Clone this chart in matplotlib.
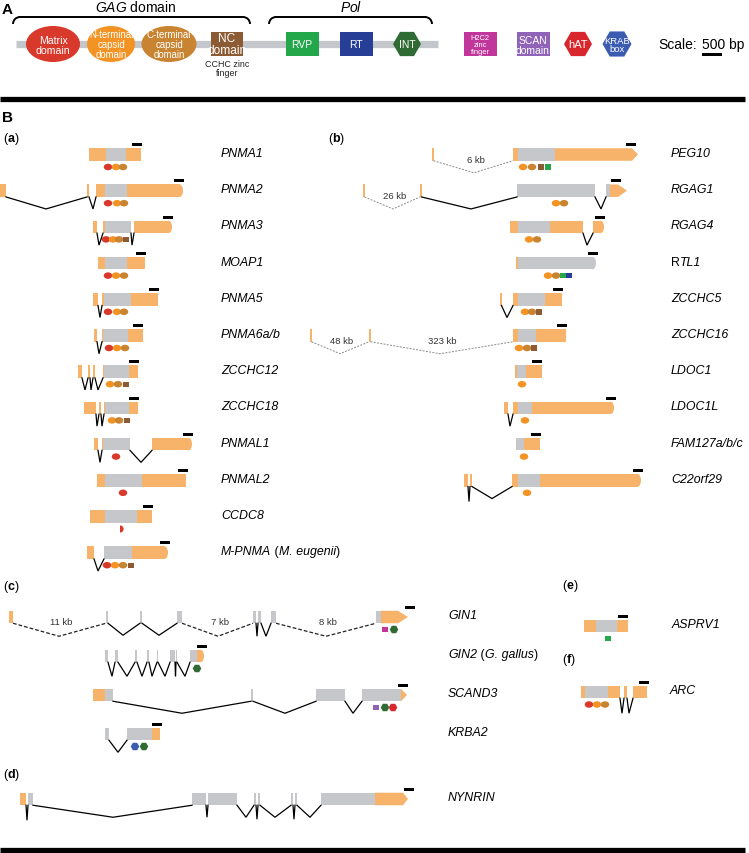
import numpy as np
import matplotlib
matplotlib.use('Agg')
import matplotlib.pyplot as plt
from matplotlib.patches import Rectangle, Ellipse, Polygon, RegularPolygon, Arc, Wedge

plt.rcParams['font.family'] = ['Liberation Sans', 'DejaVu Sans']
plt.rcParams['mathtext.fontset'] = 'custom'
plt.rcParams['mathtext.rm'] = 'Liberation Sans'
plt.rcParams['mathtext.it'] = 'Liberation Sans:italic'
plt.rcParams['mathtext.bf'] = 'Liberation Sans:bold'

W, H = 749, 854
EXON_H = 12.5

COLORS = {
    'M': '#d8392b', 'N': '#f39323', 'C': '#c98431', 'Z': '#8c5b34',
    'R': '#23a74a', 'T': '#273e97', 'I': '#2f6b33', 'H': '#c1369a',
    'S': '#8f63b8', 'A': '#d7262c', 'K': '#3c5cb2', 'm': '#d8392b',
    'o': '#f8b36a', 'g': '#c5c7cb',
}
ELLIPSES = 'MNC'
SQUARES = 'ZRTHS'
HEXAGONS = 'IAK'

# ---- panel A legend ----
LEGEND_KEYS = ['M', 'N', 'C', 'Z', 'R', 'T', 'I', 'H', 'S', 'A', 'K']
LEGEND_LABELS = ['Matrix\ndomain', 'N-terminal\ncapsid\ndomain', 'C-terminal\ncapsid\ndomain',
                 'NC\ndomain', 'RVP', 'RT', 'INT', 'H2C2\nzinc\nfinger', 'SCAN\ndomain',
                 'hAT', 'KRAB\nbox']
LEGEND_X = [53, 111, 169, 227, 302, 356, 407, 480, 533, 578, 617]
LEGEND_W = [54, 48, 55, 32, 33, 33, 28, 33, 33, 28, 29]
LEGEND_FS = [7.6, 6.9, 6.9, 8.6, 7.4, 7.4, 7.4, 5.4, 7.5, 8.0, 6.8]

# ---- gene structures: (name, exons, end, introns, domains, scale-bar start) ----
# exons: (start, end, 'o' UTR / 'g' CDS); introns: (start, low point, end, style, depth, label)
PANEL_A = [
    ('PNMA1', [(89, 106, 'o'), (106, 126, 'g'), (126, 141, 'o')], None, [],
     [(108, 'M'), (116, 'N'), (123, 'C')], 132),
    ('PNMA2', [(0, 6, 'o'), (87, 89, 'o'), (96, 105, 'o'), (105, 127, 'g'), (127, 183, 'o')], ('round',),
     [(6, 46, 87), (89, 93, 96)], [(108, 'M'), (117, 'N'), (124, 'C')], 174),
    ('PNMA3', [(93, 97, 'o'), (103, 105, 'o'), (105, 131, 'g'), (134, 172, 'o')], ('round',),
     [(97, 99, 103), (131, 132, 134)], [(106, 'M'), (113, 'N'), (119, 'C'), (126, 'Z')], 163),
    ('MOAP1', [(98, 105, 'o'), (105, 127, 'g'), (127, 145, 'o')], None, [],
     [(108, 'M'), (116, 'N'), (124, 'C')], 136),
    ('PNMA5', [(93, 98, 'o'), (102, 104, 'o'), (104, 131, 'g'), (131, 158, 'o')], None,
     [(98, 100, 102)], [(108, 'M'), (117, 'N'), (124, 'C')], 149),
    ('PNMA6a/b', [(94, 97, 'o'), (102, 103, 'o'), (103, 128, 'g'), (128, 143, 'o')], None,
     [(97, 99, 102)], [(109, 'M'), (117, 'N'), (125, 'C')], 133),
    ('ZCCHC12', [(78, 82, 'o'), (88, 90, 'o'), (93, 95, 'o'), (103, 104, 'o'), (104, 129, 'g'), (129, 138, 'o')],
     None, [(82, 85, 88), (90, 91, 93), (95, 98, 103)], [(110, 'N'), (118, 'C'), (126, 'Z')], 129),
    ('ZCCHC18', [(84, 96, 'o'), (99, 101, 'o'), (104, 105, 'o'), (105, 129, 'g'), (129, 138, 'o')], None,
     [(96, 97, 99), (101, 102, 104)], [(112, 'N'), (119, 'C'), (127, 'Z')], 129),
    ('PNMAL1', [(94, 98, 'o'), (102, 103, 'o'), (103, 130, 'g'), (152, 192, 'o')], ('round',),
     [(98, 100, 102), (130, 141, 152)], [(116, 'M')], 183),
    ('PNMAL2', [(97, 105, 'o'), (105, 142, 'g'), (142, 186, 'o')], None, [], [(123, 'M')], 178),
    ('CCDC8', [(90, 105, 'o'), (105, 137, 'g'), (137, 152, 'o')], None, [], [(120, 'm')], 143),
    ('M-PNMA', [(87, 94, 'o'), (104, 132, 'g'), (132, 168, 'o')], ('round',), [(94, 98, 104)],
     [(107, 'M'), (115, 'N'), (123, 'C'), (131, 'Z')], 160),
]
LABELS_A = [[('PNMA1', 'italic')], [('PNMA2', 'italic')], [('PNMA3', 'italic')], [('MOAP1', 'italic')],
            [('PNMA5', 'italic')], [('PNMA6a/b', 'italic')], [('ZCCHC12', 'italic')],
            [('ZCCHC18', 'italic')], [('PNMAL1', 'italic')], [('PNMAL2', 'italic')],
            [('CCDC8', 'italic')],
            [('M-PNMA', 'italic'), (' (', 'normal'), ('M. eugenii', 'italic'), (')', 'normal')]]

PANEL_B = [
    ('PEG10', [(432, 433.5, 'o'), (513, 518, 'o'), (518, 555, 'g'), (555, 638, 'o')], ('arrow', 6),
     [(433.5, 474, 513, 'd', 12, '6 kb')], [(523, 'N'), (532, 'C'), (541, 'Z'), (548, 'R')], 626),
    ('RGAG1', [(363, 364.5, 'o'), (420, 421.5, 'o'), (517, 595, 'g'), (606, 610, 'g'), (610, 627, 'o')],
     ('arrow', 9), [(364.5, 393, 420, 'd', 12, '26 kb'), (421.5, 471, 517), (595, 601, 606)],
     [(556, 'N'), (564, 'C')], 611),
    ('RGAG4', [(510, 518, 'o'), (518, 550, 'g'), (550, 583, 'o'), (593, 604, 'o')], ('round',),
     [(583, 587, 593)], [(529, 'N'), (537, 'C')], 595),
    ('RTL1', [(516, 518, 'o'), (518, 596, 'g')], ('round',), [],
     [(548, 'N'), (556, 'C'), (563, 'R'), (569, 'T')], 588),
    ('ZCCHC5', [(500, 501.5, 'o'), (513, 518, 'o'), (518, 545, 'g'), (545, 562, 'o')], None,
     [(501.5, 507, 513)], [(525, 'N'), (532, 'C'), (539, 'Z')], 553),
    ('ZCCHC16', [(310, 311.5, 'o'), (369, 370.5, 'o'), (513, 518, 'o'), (518, 536, 'g'), (536, 566, 'o')],
     None, [(311.5, 340, 369, 'd', 12, '48 kb'), (370.5, 440, 513, 'd', 12, '323 kb')],
     [(519, 'N'), (527, 'C'), (534, 'Z')], 557),
    ('LDOC1', [(515, 517, 'o'), (517, 526, 'g'), (526, 542, 'o')], None, [], [(522, 'N')], 532),
    ('LDOC1L', [(504, 508, 'o'), (513, 518, 'o'), (518, 532, 'g'), (532, 614, 'o')], ('round',),
     [(508, 510, 513)], [(525, 'N')], 606),
    ('FAM127a/b/c', [(516, 524, 'g'), (524, 540, 'o')], None, [], [(524, 'N')], 531),
    ('C22orf29', [(464, 468, 'o'), (470, 472, 'o'), (512, 518, 'o'), (518, 540, 'g'), (540, 641, 'o')],
     ('round',), [(468, 469, 470, 's', 15), (472, 492, 512)], [(527, 'N')], 633),
]
LABELS_B = [[('PEG10', 'italic')], [('RGAG1', 'italic')], [('RGAG4', 'italic')],
            [('R', 'normal'), ('TL1', 'italic')], [('ZCCHC5', 'italic')], [('ZCCHC16', 'italic')],
            [('LDOC1', 'italic')], [('LDOC1L', 'italic')], [('FAM127a/b/c', 'italic')],
            [('C22orf29', 'italic')]]

PANEL_C = [
    ('GIN1', [(9, 13, 'o'), (106, 108, 'g'), (140, 142, 'g'), (177, 182, 'g'), (253, 256, 'g'),
              (258, 261, 'g'), (271, 276, 'g'), (376, 381, 'g'), (381, 408, 'o')], ('arrow', 10),
     [(13, 59, 106, 'k', 13, '11 kb'), (108, 123, 140), (142, 159, 177), (182, 218, 253, 'k', 13, '7 kb'),
      (256, 257, 258, 's', 13), (261, 266, 271, 's', 13), (276, 326, 376, 'k', 13, '8 kb')],
     [(385, 'H'), (394, 'I')], 405),
    ('GIN2', [(105, 108, 'g'), (115, 118, 'g'), (135, 137, 'g'), (147, 149, 'g'), (157, 158, 'g'),
              (170, 175, 'g'), (176, 177, 'g'), (190, 197, 'g'), (197, 204, 'o')], ('round',),
     [(108, 112, 115, 's', 14), (118, 127, 135, 's', 14), (137, 142, 147, 's', 14), (149, 152, 157, 's', 14),
      (158, 165, 170, 's', 14), (175, 175.5, 176, 's', 14), (177, 185, 190, 's', 14)],
     [(197, 'I')], 197),
    ('SCAND3', [(93, 105, 'o'), (105, 113, 'g'), (251, 253, 'g'), (316, 345, 'g'), (362, 401, 'g'),
                (401, 407, 'o')], ('arrow', 6),
     [(113, 182, 251), (253, 285, 316), (345, 353, 362)], [(376, 'S'), (385, 'I'), (393, 'A')], 398),
    ('KRBA2', [(105, 109, 'g'), (127, 152, 'g'), (152, 160, 'o')], None, [(109, 118, 127)],
     [(135, 'K'), (144, 'I')], 152),
]
LABELS_C = [[('GIN1', 'italic')],
            [('GIN2', 'italic'), (' (', 'normal'), ('G. gallus', 'italic'), (')', 'normal')],
            [('SCAND3', 'italic')], [('KRBA2', 'italic')]]

PANEL_D = [
    ('NYNRIN', [(20, 26, 'o'), (28, 33, 'g'), (192, 206, 'g'), (208, 237, 'g'), (254, 256, 'g'),
                (258, 260, 'g'), (291, 293, 'g'), (295, 297, 'g'), (321, 375, 'g'), (375, 408, 'o')],
     ('arrow', 5),
     [(26, 27, 28, 's', 15), (33, 113, 192), (206, 207, 208, 's', 12), (237, 246, 254),
      (256, 257, 258, 's', 14), (260, 275, 291), (293, 294, 295, 's', 14), (297, 310, 321)],
     [], 404),
]
LABELS_D = [[('NYNRIN', 'italic')]]

PANEL_E = [('ASPRV1', [(584, 596, 'o'), (596, 617, 'g'), (617, 628, 'o')], None, [], [(608, 'R')], 618)]
PANEL_F = [('ARC', [(581, 585, 'o'), (585, 608, 'g'), (608, 620, 'o'), (624, 627, 'o'), (633, 647, 'o')],
            None, [(620, 622, 624, 's', 15), (627, 629, 633, 's', 15)],
            [(589, 'M'), (597, 'N'), (605, 'C')], 639)]


def add_domain(ax, x, y, key):
    c = COLORS[key]
    if key in ELLIPSES:
        ax.add_patch(Ellipse((x, y), 8.5, 6.5, color=c, lw=0))
    elif key in SQUARES:
        ax.add_patch(Rectangle((x - 2.7, y - 2.7), 5.4, 5.4, color=c, lw=0))
    elif key in HEXAGONS:
        ax.add_patch(RegularPolygon((x, y), 6, radius=4.3, orientation=np.pi / 6, color=c, lw=0))
    elif key == 'm':
        ax.add_patch(Wedge((x, y), 3.6, -90, 90, color=c, lw=0))


def rich_text(ax, x, y, pieces, fs=8.9):
    # consecutive pieces of text with their own style (italic gene names, upright parentheses)
    renderer = ax.figure.canvas.get_renderer()
    for s, style in pieces:
        t = ax.text(x, y, s, fontsize=fs, style=style, ha='left', va='center')
        x += t.get_window_extent(renderer).width


def draw_gene(ax, gene, y, label, label_x):
    name, exons, end, introns, doms, bar = gene
    top, bot = y - EXON_H / 2, y + EXON_H / 2
    for intr in introns:
        xa, xb, xc = intr[:3]
        style = intr[3] if len(intr) > 3 else 's'
        depth = intr[4] if len(intr) > 4 else 12
        txt = intr[5] if len(intr) > 5 else ''
        if style == 's':
            kw = dict(color='black', lw=0.9)
        elif style == 'k':
            kw = dict(color='#222222', lw=0.9, ls=(0, (3, 1.6)))
        else:
            kw = dict(color='#8a8a8a', lw=0.7, ls=(0, (2, 1.4)))
        ax.plot([xa, xb, xc], [bot, bot + depth, bot], solid_joinstyle='miter', **kw)
        if txt:
            ax.text(xb + 2, y + 5, txt, fontsize=6.8, color='#333333', ha='center', va='center')
    for i, (x0, x1, k) in enumerate(exons):
        c = COLORS[k]
        last = i == len(exons) - 1
        if last and end is not None and end[0] == 'round':
            r = 3.5
            ax.add_patch(Rectangle((x0, top), x1 - x0 - r, EXON_H, color=c, lw=0))
            ax.add_patch(Ellipse((x1 - r, y), 2 * r, EXON_H, color=c, lw=0))
        elif last and end is not None and end[0] == 'arrow':
            L = end[1]
            ax.add_patch(Polygon([(x0, top), (x1 - L, top), (x1, y), (x1 - L, bot), (x0, bot)],
                                 closed=True, color=c, lw=0))
        else:
            ax.add_patch(Rectangle((x0, top), x1 - x0, EXON_H, color=c, lw=0))
    ax.add_patch(Rectangle((bar, top - 5), 10, 3, color='black', lw=0))
    for x, k in doms:
        add_domain(ax, x, y + 12.5, k)
    rich_text(ax, label_x, y - 1.5, label)


fig = plt.figure(figsize=(W / 100, H / 100), dpi=100)
ax = fig.add_axes([0, 0, 1, 1])
ax.set_xlim(0, W)
ax.set_ylim(H, 0)
ax.axis('off')

# ---------- panel A ----------
ax.text(2, 10, 'A', fontsize=11, fontweight='bold', va='center')
ax.plot([16, 438], [44.5, 44.5], color='#c3c6ca', lw=5.2, solid_capstyle='butt', zorder=1)
for x0, x1, t, tx in [(13, 250, r'$\mathit{GAG}$ domain', 136), (269, 432, r'$\mathit{Pol}$', 351)]:
    r = 7
    ax.plot([x0 + r, x1 - r], [18, 18], color='black', lw=1.4)
    ax.add_patch(Arc((x0 + r, 18 + r), 2 * r, 2 * r, theta1=180, theta2=270, color='black', lw=1.4))
    ax.add_patch(Arc((x1 - r, 18 + r), 2 * r, 2 * r, theta1=270, theta2=360, color='black', lw=1.4))
    ax.text(tx, 7, t, fontsize=10, ha='center', va='center')

for k, lab, x, w, fs in zip(LEGEND_KEYS, LEGEND_LABELS, LEGEND_X, LEGEND_W, LEGEND_FS):
    c = COLORS[k]
    if k in ELLIPSES:
        ax.add_patch(Ellipse((x, 45), w, 36, color=c, lw=0, zorder=2))
    elif k in SQUARES:
        ax.add_patch(Rectangle((x - w / 2, 33), w, 24, color=c, lw=0, zorder=2))
    else:
        ax.add_patch(RegularPolygon((x, 45), 6, radius=w / 2, orientation=np.pi / 6, color=c, lw=0, zorder=2))
    ax.text(x, 45.5, lab, fontsize=fs, color='white', ha='center', va='center', linespacing=1.0, zorder=3)
ax.text(227, 69, 'CCHC zinc\nfinger', fontsize=6.4, ha='center', va='center', linespacing=1.05, color='#222222')
ax.text(658, 45, 'Scale:', fontsize=10, ha='left', va='center')
ax.text(702, 45, '500 bp', fontsize=10, ha='left', va='center')
ax.add_patch(Rectangle((702, 53.5), 20, 3, color='black', lw=0))

ax.plot([0, 745], [99.5, 99.5], color='black', lw=3.8, solid_capstyle='butt')
ax.plot([0, 745], [850.5, 850.5], color='black', lw=3.8, solid_capstyle='butt')

# ---------- panel B ----------
ax.text(2, 118, 'B', fontsize=11, fontweight='bold', va='center')
for t, x, y in [('a', 3, 139), ('b', 328, 139), ('c', 3, 587), ('d', 3, 775), ('e', 562, 586), ('f', 562, 660)]:
    ax.text(x, y, '($\\mathbf{%s}$)' % t, fontsize=9, ha='left', va='center')

ROW0, STEP = 155.5, 36.2
for i, (g, lab) in enumerate(zip(PANEL_A, LABELS_A)):
    draw_gene(ax, g, ROW0 + STEP * i, lab, 221)
for i, (g, lab) in enumerate(zip(PANEL_B, LABELS_B)):
    draw_gene(ax, g, ROW0 + STEP * i, lab, 671)
for i, (g, lab) in enumerate(zip(PANEL_C, LABELS_C)):
    draw_gene(ax, g, 618 + 39 * i, lab, 448)
draw_gene(ax, PANEL_D[0], 800, LABELS_D[0], 448)
draw_gene(ax, PANEL_E[0], 627, [('ASPRV1', 'italic')], 672)
draw_gene(ax, PANEL_F[0], 693, [('ARC', 'italic')], 670)

fig.savefig('out.png', dpi=100)
